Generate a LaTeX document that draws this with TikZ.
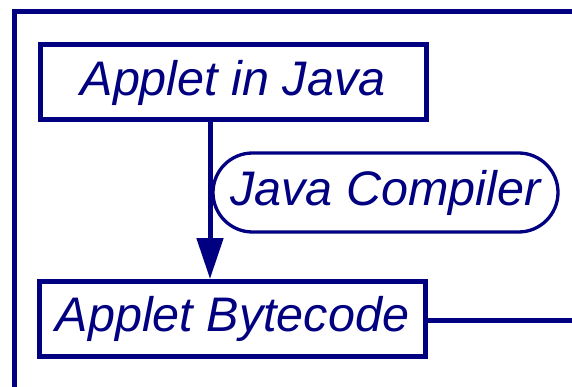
\documentclass[tikz,border=0pt]{standalone}
\usepackage{fontspec}
\setmainfont{Liberation Sans}
\usetikzlibrary{arrows.meta,shapes.misc}
\definecolor{navy}{RGB}{0,0,128}
\begin{document}
\begin{tikzpicture}[x=1pt,y=-1pt,
  box/.style={draw=navy,line width=5pt,rectangle,minimum width=386pt,minimum height=75pt,inner sep=0pt,text=navy,font=\fontsize{48.5}{52}\selectfont\itshape},
  pill/.style={draw=navy,line width=3.3pt,rounded rectangle,minimum width=345pt,minimum height=79pt,inner sep=0pt,text=navy,font=\fontsize{48.5}{52}\selectfont\itshape},
  conn/.style={draw=navy,line width=5pt}]
\useasboundingbox (0,0) rectangle (572,387);
\coordinate (fb) at (14.5,387);
\coordinate (fc) at (14.5,12);
\coordinate (fr) at (572,12);
\draw[conn] (fb) -- (fc) -- (fr);
\node[box] (b1) at (233,82.5) {Applet in Java};
\node[box] (b2) at (232.5,319) {Applet Bytecode};
\node[pill] (jc) at (385.5,192.5) {Java Compiler};
\coordinate (ax) at (210,0);
\coordinate (re) at (572,320);
\draw[conn,-{Triangle[width=26pt,length=41pt]},fill=navy] (b1.south -| ax) -- (b2.north -| ax);
\draw[conn] (b2.east |- re) -- (re);
\end{tikzpicture}
\end{document}
